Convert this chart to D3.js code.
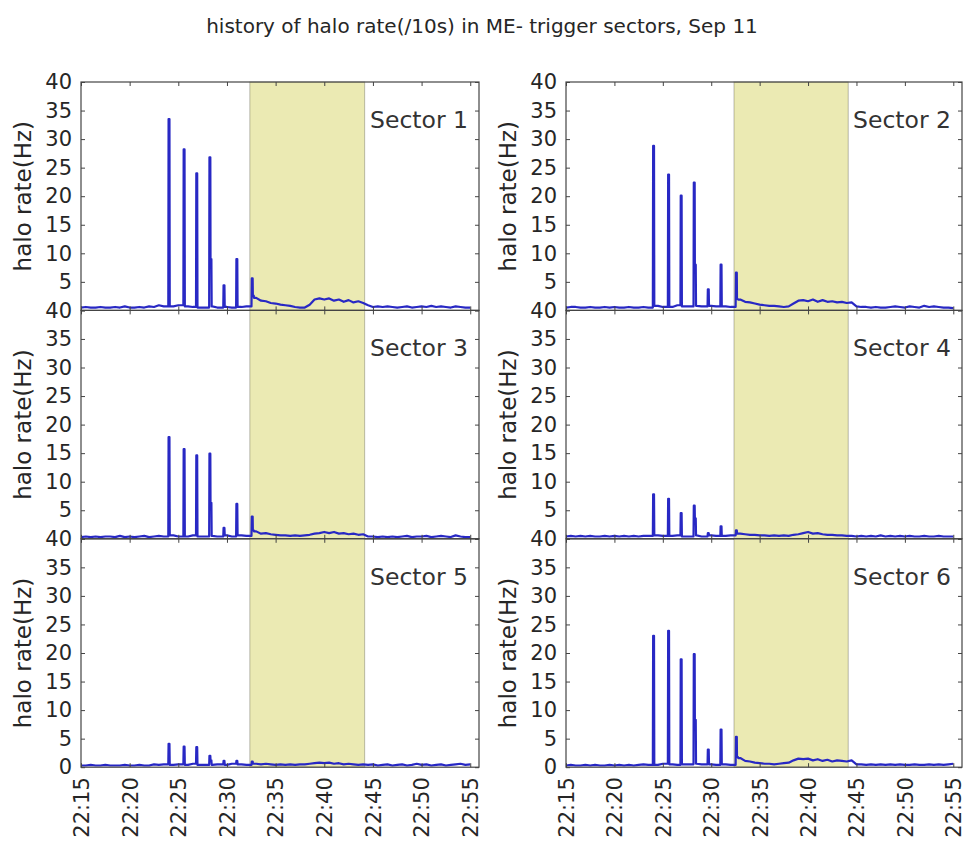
<!DOCTYPE html>
<html><head><meta charset="utf-8">
<script src="https://cdn.jsdelivr.net/npm/d3@7"></script>
<style>
body{margin:0;background:#fff}
svg{display:block}
text{font-family:"DejaVu Sans",sans-serif}
</style>
</head><body>
<svg id="chart" width="964" height="842"></svg>
<script>
// ---------------- data ----------------
const titleText = "history of halo rate(/10s) in ME- trigger sectors, Sep 11";
const sectorNames = ["Sector 1","Sector 2","Sector 3","Sector 4","Sector 5","Sector 6"];
const yLabelText = "halo rate(Hz)";
const xTickMinutes = [0,5,10,15,20,25,30,35,40];           // minutes after 22:15
const xTickLabels = ["22:15","22:20","22:25","22:30","22:35","22:40","22:45","22:50","22:55"];
const yTicks = [0,5,10,15,20,25,30,35,40];
const xDomain = [0, 40.9];
const shadeSpan = [17.35, 29.15];                            // minutes after 22:15
const baseStep = 0.5;                                         // baseline sample spacing (min)
const spikeTimes = [9.0, 10.55, 11.85, 13.2, 14.65, 15.97, 17.55];

// baseline rate, one value every 0.5 min from 22:15 to 22:55
const base1 = [0.5,0.6,0.5,0.5,0.6,0.5,0.5,0.6,0.5,0.7,0.5,0.5,0.6,0.5,0.7,0.6,0.9,0.7,
  0.8,0.7,0.9,0.6,0.7,0.6,0.8,0.5,0.6,0.7,0.5,0.8,0.6,0.5,0.7,0.6,0.7,
  2.5,2.2,1.7,1.6,1.3,1.2,1.0,0.9,0.8,0.6,0.5,0.5,1.0,1.9,2.1,1.9,2.1,1.7,1.9,1.5,1.8,1.4,1.6,1.3,0.9,0.6,
  0.7,0.6,0.7,0.6,0.5,0.6,0.7,0.5,0.6,0.7,0.6,0.8,0.6,0.7,0.6,0.5,0.7,0.6,0.5,0.5];
const base2 = [0.5,0.6,0.6,0.5,0.5,0.6,0.5,0.5,0.6,0.5,0.6,0.5,0.5,0.6,0.5,0.5,0.6,0.5,
  0.6,0.8,0.6,0.7,0.6,0.9,0.6,0.7,0.6,0.8,0.7,0.6,0.8,0.7,0.6,0.7,0.6,
  2.0,1.9,1.5,1.4,1.2,1.0,0.9,0.8,0.8,0.7,0.6,0.7,1.2,1.7,1.8,1.6,1.9,1.5,1.8,1.5,1.6,1.4,1.5,1.3,1.4,0.7,
  0.6,0.6,0.5,0.6,0.5,0.5,0.6,0.7,0.6,0.5,0.7,0.6,0.5,0.8,0.6,0.7,0.6,0.5,0.5,0.4];
const base3 = [0.3,0.4,0.3,0.4,0.3,0.4,0.4,0.3,0.5,0.3,0.4,0.3,0.4,0.5,0.3,0.4,0.5,0.4,
  0.5,0.6,0.4,0.5,0.4,0.6,0.5,0.4,0.6,0.5,0.4,0.5,0.6,0.4,0.5,0.6,0.5,
  1.5,1.3,0.9,1.0,0.8,0.7,0.6,0.6,0.5,0.6,0.5,0.6,0.7,0.9,1.0,1.2,1.0,1.2,0.9,1.0,0.8,0.9,0.7,0.8,0.4,0.4,
  0.3,0.4,0.3,0.4,0.3,0.4,0.5,0.3,0.4,0.4,0.5,0.3,0.4,0.5,0.4,0.3,0.6,0.4,0.3,0.3];
const base4 = [0.4,0.5,0.4,0.5,0.4,0.5,0.4,0.4,0.5,0.4,0.5,0.4,0.5,0.4,0.5,0.4,0.5,0.5,
  0.5,0.6,0.5,0.4,0.5,0.6,0.5,0.4,0.5,0.6,0.4,0.5,0.6,0.5,0.4,0.5,0.6,
  1.2,0.9,0.8,0.7,0.7,0.6,0.6,0.5,0.6,0.5,0.6,0.5,0.7,0.8,1.0,1.2,0.9,1.0,0.8,0.7,0.7,0.6,0.6,0.5,0.5,0.4,
  0.5,0.4,0.5,0.4,0.6,0.4,0.5,0.4,0.5,0.4,0.5,0.4,0.4,0.5,0.4,0.4,0.5,0.4,0.4,0.4];
const base5 = [0.3,0.3,0.4,0.3,0.3,0.4,0.3,0.3,0.3,0.4,0.3,0.3,0.4,0.3,0.3,0.5,0.4,0.5,
  0.5,0.4,0.5,0.5,0.4,0.6,0.5,0.4,0.6,0.4,0.5,0.5,0.4,0.6,0.4,0.5,0.4,
  0.7,0.6,0.5,0.6,0.5,0.4,0.5,0.4,0.5,0.4,0.5,0.5,0.6,0.7,0.8,0.7,0.8,0.6,0.7,0.5,0.6,0.5,0.4,0.5,0.4,0.5,
  0.3,0.4,0.5,0.3,0.4,0.5,0.3,0.4,0.6,0.4,0.5,0.3,0.4,0.5,0.3,0.4,0.5,0.6,0.4,0.5];
const base6 = [0.3,0.4,0.3,0.3,0.4,0.3,0.4,0.3,0.3,0.4,0.3,0.4,0.3,0.4,0.3,0.4,0.5,0.4,
  0.5,0.4,0.6,0.4,0.5,0.4,0.6,0.5,0.4,0.6,0.5,0.4,0.5,0.4,0.6,0.5,0.4,
  1.8,1.6,1.1,1.0,0.8,0.7,0.6,0.6,0.5,0.6,0.7,0.8,1.2,1.5,1.4,1.5,1.2,1.4,1.1,1.3,1.0,1.2,1.1,1.0,1.2,0.5,
  0.5,0.4,0.5,0.4,0.5,0.4,0.5,0.4,0.5,0.4,0.4,0.5,0.4,0.4,0.5,0.4,0.5,0.4,0.5,0.6];

// spike peak value and the value of the following 10 s bin (null = back to baseline)
const peaks1 = [33.5, 28.2, 24.0, 26.8, 4.4, 9.0, 5.6];
const trail1 = [null, null, null, 9.0, null, null, 2.6];
const peaks2 = [28.8, 23.8, 20.1, 22.4, 3.7, 8.0, 6.6];
const trail2 = [null, null, null, 8.0, null, null, 2.0];
const peaks3 = [17.8, 15.7, 14.6, 14.9, 1.9, 6.1, 3.9];
const trail3 = [null, null, null, 6.3, null, null, 1.5];
const peaks4 = [7.8, 7.0, 4.5, 5.8, 1.0, 2.2, 1.5];
const trail4 = [null, null, null, 3.6, null, null, null];
const peaks5 = [4.1, 3.6, 3.5, 2.0, 1.1, 1.1, 1.0];
const trail5 = [null, null, null, 1.2, null, null, null];
const peaks6 = [23.0, 23.9, 18.9, 19.8, 3.1, 6.6, 5.3];
const trail6 = [null, null, null, 8.3, null, null, 1.8];

const baselines = [base1, base2, base3, base4, base5, base6];
const peaks = [peaks1, peaks2, peaks3, peaks4, peaks5, peaks6];
const trails = [trail1, trail2, trail3, trail4, trail5, trail6];

// ---------------- build series ----------------
function buildSeries(base, pk, tr) {
  const grid = base.map((v, i) => ({t: i * baseStep, v}));
  const kept = grid.filter(p => spikeTimes.every(ts => Math.abs(p.t - ts) >= 0.25));
  const pts = kept.slice();
  spikeTimes.forEach((ts, k) => {
    const before = kept.filter(p => p.t < ts).pop();
    const after = kept.find(p => p.t > ts);
    pts.push({t: ts - 0.03, v: before ? before.v : base[0]});
    pts.push({t: ts, v: pk[k]});
    pts.push({t: ts + 0.09, v: pk[k]});
    let tEnd = ts + 0.12;
    if (tr[k] !== null) {
      pts.push({t: ts + 0.11, v: tr[k]});
      pts.push({t: ts + 0.2, v: tr[k]});
      tEnd = ts + 0.23;
    }
    pts.push({t: tEnd, v: after ? after.v : base[base.length - 1]});
  });
  pts.sort((a, b) => a.t - b.t);
  return pts;
}

// ---------------- layout ----------------
const svg = d3.select("#chart");
const cols = [{x0: 81, x1: 479}, {x0: 566, x1: 962}];
const rowTop = 82, rowH = 228.4;
const lineColor = "#2828c4";
const spineColor = "#444";
const textColor = "#262626";

svg.append("text")
  .attr("x", 482).attr("y", 33)
  .attr("text-anchor", "middle")
  .attr("font-size", 20)
  .attr("fill", textColor)
  .text(titleText);

sectorNames.forEach((name, i) => {
  const col = cols[i % 2];
  const row = Math.floor(i / 2);
  const top = rowTop + row * rowH, bottom = top + rowH;
  const x = d3.scaleLinear().domain(xDomain).range([col.x0, col.x1]);
  const y = d3.scaleLinear().domain([0, 40]).range([bottom, top]);
  const g = svg.append("g");

  // shaded span
  g.append("rect")
    .attr("x", x(shadeSpan[0])).attr("y", top)
    .attr("width", x(shadeSpan[1]) - x(shadeSpan[0]))
    .attr("height", rowH)
    .attr("fill", "#ebeab3")
    .attr("stroke", "rgba(0,0,0,0.25)")
    .attr("stroke-width", 1);

  // data line
  const series = buildSeries(baselines[i], peaks[i], trails[i]);
  g.append("path")
    .datum(series)
    .attr("fill", "none")
    .attr("stroke", lineColor)
    .attr("stroke-width", 2.2)
    .attr("stroke-linejoin", "round")
    .attr("d", d3.line().x(d => x(d.t)).y(d => y(d.v)));

  // axes (ticks pointing inward); the 0 label of upper rows sits under the 40 of the row below
  const yLabelFmt = d => (row < 2 && d === 0) ? "" : String(d);
  const left = g.append("g").attr("transform", `translate(${col.x0},0)`)
    .call(d3.axisLeft(y).tickValues(yTicks).tickSize(-4).tickSizeOuter(0).tickPadding(9).tickFormat(yLabelFmt));
  const right = g.append("g").attr("transform", `translate(${col.x1},0)`)
    .call(d3.axisRight(y).tickValues(yTicks).tickSize(-4).tickSizeOuter(0).tickFormat(""));
  const topAx = g.append("g").attr("transform", `translate(0,${top})`)
    .call(d3.axisTop(x).tickValues(xTickMinutes).tickSize(-4).tickSizeOuter(0).tickFormat(""));
  const botAx = g.append("g").attr("transform", `translate(0,${bottom})`)
    .call(d3.axisBottom(x).tickValues(xTickMinutes).tickSize(-4).tickSizeOuter(0)
      .tickFormat((d, k) => row === 2 ? xTickLabels[k] : ""));
  [left, right, topAx, botAx].forEach(a => {
    a.select(".domain").remove();
    a.selectAll(".tick line").attr("stroke", spineColor).attr("stroke-width", 1);
    a.selectAll("text").attr("font-size", 21).attr("fill", textColor)
      .attr("font-family", '"DejaVu Sans",sans-serif');
    a.selectAll("text").filter(function() { return this.textContent === ""; }).remove();
  });
  botAx.selectAll(".tick text")
    .attr("transform", "rotate(-90)")
    .attr("x", -10).attr("y", 0).attr("dy", "0.35em")
    .style("text-anchor", "end");

  // frame
  g.append("rect")
    .attr("x", col.x0).attr("y", top)
    .attr("width", col.x1 - col.x0).attr("height", rowH)
    .attr("fill", "none").attr("stroke", spineColor).attr("stroke-width", 1.2);

  // sector label
  g.append("text")
    .attr("x", col.x1 - 11).attr("y", top + 46)
    .attr("text-anchor", "end")
    .attr("font-size", 23.5)
    .attr("fill", "#333")
    .text(name);

  // y label
  g.append("text")
    .attr("transform", `translate(${col.x0 - 50},${(top + bottom) / 2}) rotate(-90)`)
    .attr("text-anchor", "middle")
    .attr("font-size", 23)
    .attr("fill", textColor)
    .text(yLabelText);
});
</script>
</body></html>
